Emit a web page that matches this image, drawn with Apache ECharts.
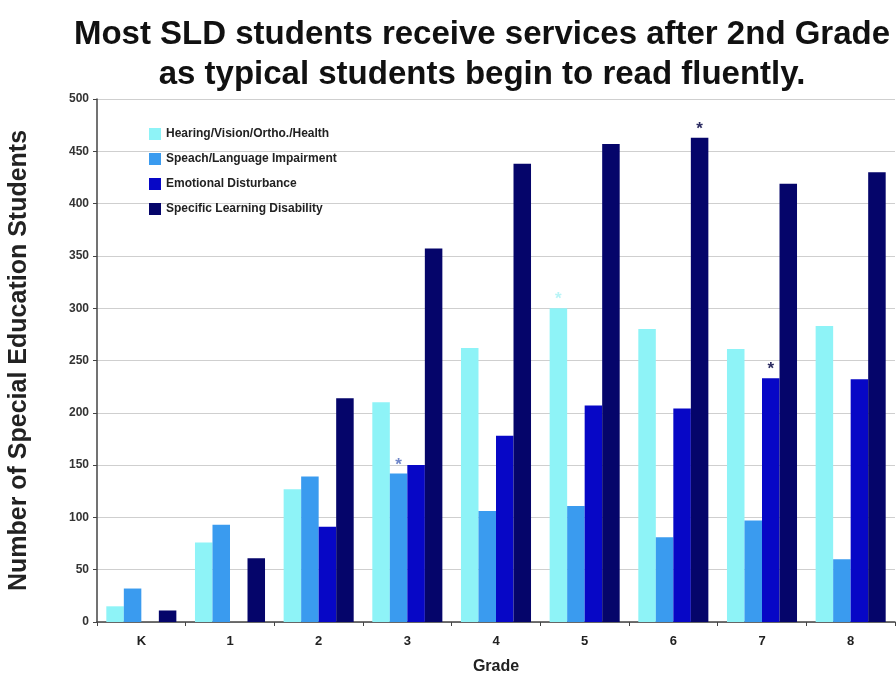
<!DOCTYPE html>
<html>
<head>
<meta charset="utf-8">
<script src="https://cdn.jsdelivr.net/npm/echarts@6/dist/echarts.min.js"></script>
<style>
html, body { margin: 0; padding: 0; background: #fff; }
#main { width: 896px; height: 678px; }
</style>
</head>
<body>
<div id="main"></div>
<script>
var grades = ['K', '1', '2', '3', '4', '5', '6', '7', '8'];
var hearing = [15, 76, 127, 210, 262, 300, 280, 261, 283];
var speech = [32, 93, 139, 142, 106, 111, 81, 97, 60];
var emotional = [0, 0, 91, 150, 178, 207, 204, 233, 232];
var sld = [11, 61, 214, 357, 438, 457, 463, 419, 430];
// grades that carry an asterisk, per series
var starHearing = ['5'];
var starSpeech = ['3'];
var starEmotional = ['7'];
var starSld = ['6'];

var myChart = echarts.init(document.getElementById('main'));

function withStars(values, starred, starColor) {
  return values.map(function (v, i) {
    if (starred.indexOf(grades[i]) < 0) return v;
    return {
      value: v,
      label: {
        show: true, position: 'top', distance: 0, formatter: '*',
        color: starColor, fontSize: 17, fontWeight: 'bold', fontFamily: 'Liberation Sans'
      }
    };
  });
}

function bar(name, color, data) {
  return {
    name: name,
    type: 'bar',
    barGap: '0%',
    barCategoryGap: '21%',
    itemStyle: { color: color },
    data: data
  };
}

option = {
  backgroundColor: '#fff',
  animation: false,
  title: {
    text: 'Most SLD students receive services after 2nd Grade\nas typical students begin to read fluently.',
    left: 477, top: 10, textAlign: 'center',
    textStyle: {
      fontFamily: 'Liberation Sans', fontWeight: 'bold',
      fontSize: 33, lineHeight: 40, color: '#111'
    }
  },
  legend: {
    orient: 'vertical',
    left: 144, top: 123,
    itemWidth: 12, itemHeight: 12, itemGap: 13,
    icon: 'rect',
    textStyle: { fontFamily: 'Liberation Sans', fontWeight: 'bold', fontSize: 12, color: '#222' },
    data: ['Hearing/Vision/Ortho./Health', 'Speach/Language Impairment', 'Emotional Disturbance', 'Specific Learning Disability']
  },
  grid: { left: 97, right: 1, top: 99, bottom: 56, outerBoundsMode: 'none', containLabel: false },
  xAxis: {
    type: 'category',
    data: grades,
    name: 'Grade',
    nameLocation: 'middle',
    nameGap: 37,
    nameTextStyle: { fontFamily: 'Liberation Sans', fontWeight: 'bold', fontSize: 16, color: '#222' },
    axisLine: { lineStyle: { color: '#444', width: 1.5 } },
    axisTick: { show: true, length: 4, lineStyle: { color: '#444' } },
    axisLabel: { margin: 13, fontFamily: 'Liberation Sans', fontWeight: 'bold', fontSize: 13, color: '#222' }
  },
  yAxis: {
    type: 'value',
    min: 0, max: 500, interval: 50,
    name: 'Number of Special Education Students',
    nameLocation: 'middle',
    nameGap: 65,
    nameTextStyle: { fontFamily: 'Liberation Sans', fontWeight: 'bold', fontSize: 25, color: '#222' },
    axisLine: { show: true, lineStyle: { color: '#444', width: 1.5 } },
    axisTick: { show: true, length: 4, lineStyle: { color: '#444' } },
    axisLabel: { margin: 8, fontFamily: 'Liberation Sans', fontWeight: 'bold', fontSize: 12, color: '#333' },
    splitLine: { lineStyle: { color: '#cfcfcf', width: 1 } }
  },
  series: [
    bar('Hearing/Vision/Ortho./Health', '#8ef3f7', withStars(hearing, starHearing, '#b8f4f6')),
    bar('Speach/Language Impairment', '#3a9bef', withStars(speech, starSpeech, '#6f86c8')),
    bar('Emotional Disturbance', '#0707c6', withStars(emotional, starEmotional, '#2a2a60')),
    bar('Specific Learning Disability', '#05056a', withStars(sld, starSld, '#2a2a60'))
  ]
};
myChart.setOption(option);
</script>
</body>
</html>
